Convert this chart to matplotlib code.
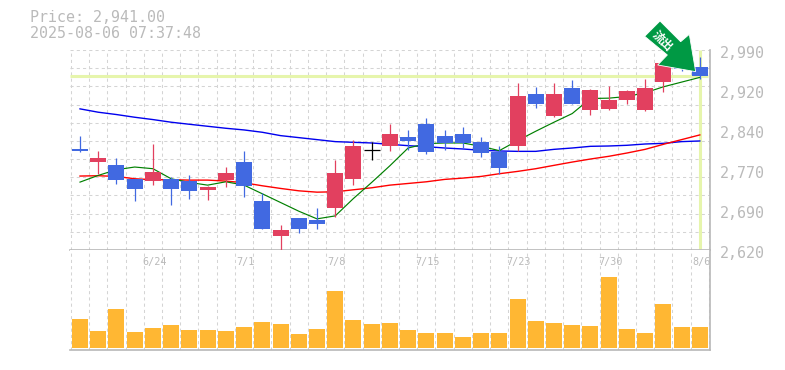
import matplotlib
matplotlib.use("Agg")
import matplotlib.pyplot as plt
from matplotlib.patches import Polygon, Rectangle
import numpy as np

W, H = 785, 370
DPI = 100

dates_idx = [4, 9, 14, 19, 24, 29, 34]
date_labels = ["6/24", "7/1", "7/8", "7/15", "7/23", "7/30", "8/6"]
price_ticks = [2990, 2916, 2842, 2768, 2694, 2620]
price_labels = ["2,990", "2,920", "2,840", "2,770", "2,690", "2,620"]

highs = [2831.6, 2803.8, 2790.8, 2751.8, 2816.8, 2754.9, 2759.2, 2738.8, 2774, 2803.8, 2725.2, 2666.4, 2679.4, 2698,
         2787.1, 2824.2, 2819.9, 2853.9, 2842.8, 2865, 2842.8, 2848.3, 2829.8, 2813, 2928.1, 2920.7, 2928.1, 2933.7,
         2917, 2922.6, 2915.1, 2935.6, 2966.5, 2975, 2976.4]
tops = [2807.5, 2790.8, 2777.8, 2751.2, 2764.8, 2751.2, 2748.1, 2737, 2762.9, 2783.4, 2711, 2657.1, 2679.4, 2675.7,
        2762.9, 2813, 2805.6, 2835.3, 2829.8, 2853.9, 2831.6, 2835.3, 2820.5, 2801.9, 2904, 2907.7, 2907.7, 2918.9,
        2915.1, 2898.4, 2913.3, 2918.9, 2966.5, 2968, 2957.8]
bots = [2803.8, 2783.4, 2750, 2733.2, 2748.1, 2733.2, 2729.5, 2731.4, 2750, 2738.8, 2659, 2646, 2659, 2668.3,
        2698, 2751.8, 2805.6, 2813, 2822.3, 2801.9, 2818.6, 2818.6, 2800.1, 2772.2, 2813, 2891, 2868.7, 2891,
        2879.9, 2881.7, 2896.6, 2879.9, 2930, 2955, 2941.1]
lows = [2802, 2761.1, 2742.5, 2711, 2740.7, 2703.5, 2714.7, 2712.8, 2737, 2718.4, 2659, 2620, 2651.6, 2659,
        2681.9, 2740.7, 2787.1, 2803.8, 2804.4, 2798.2, 2804.4, 2809.3, 2792.6, 2761.1, 2803.8, 2883.6, 2866.9, 2891,
        2870.6, 2879.9, 2891, 2878, 2911.4, 2952, 2935.6]
colors_key = list("brbbrbbrrbbrbbrrkrbbbbbbrbrbrrrrrbb")

ma_short = [2745.6, 2758, 2768.5, 2773.5, 2770.4, 2751.8, 2745, 2740, 2746.2, 2740, 2724, 2707.9, 2691.8, 2677.6,
            2683.1, 2715.3, 2745, 2775.9, 2808.7, 2816.8, 2818, 2818, 2811.8, 2803.8, 2822.3, 2839.7, 2856.4, 2872.4,
            2900.3, 2900.9, 2904, 2910.8, 2921.9, 2930.6, 2939.3]
ma_mid = [2756.8, 2757.4, 2756.1, 2751.8, 2750, 2750, 2749.3, 2749.3, 2747.5, 2744.4, 2738.8, 2733.9, 2729.5, 2727,
          2727.7, 2731.4, 2735.1, 2740, 2743.1, 2746.2, 2750.6, 2753, 2756.1, 2761.1, 2765.4, 2770.4, 2776.6, 2782.7,
          2788.3, 2793.3, 2799.4, 2806.2, 2815.5, 2824.2, 2832.9]
ma_long = [2881.1, 2874.9, 2870.6, 2865.6, 2861.3, 2856.4, 2852.6, 2848.9, 2845.2, 2842.1, 2837.8, 2831.6, 2827.9,
           2824.2, 2820.5, 2819.2, 2818, 2815.5, 2813, 2811.2, 2808.7, 2806.9, 2804.4, 2803.2, 2802.5, 2802.5, 2806.2,
           2808.7, 2811.8, 2812.4, 2813.7, 2816.1, 2817.3, 2820.5, 2821.7]
volumes = [87, 51, 117, 48, 60, 69, 54, 54, 51, 63, 78, 72, 42, 57, 171, 84, 72, 75, 54, 45, 45, 33, 45, 45, 147, 81,
           75, 69, 66, 213, 57, 45, 132, 63, 63]
current_price = 2941
last_idx = 34

BLUE = "#4169E1"
RED = "#E2405F"
ORANGE = "#FFB733"
HILITE = "#E6F5AC"
GRID = "#D4D4D4"
FRAME = "#B8B8B8"
TXT = "#BABABA"

fig = plt.figure(figsize=(W / DPI, H / DPI), dpi=DPI)
fig.patch.set_facecolor("white")


def axes_px(x0, y0, x1, y1):
    return fig.add_axes([x0 / W, 1 - y1 / H, (x1 - x0) / W, (y1 - y0) / H])


x_left, x_right = 70.3, 710.0
step = 18.23
x0_center = 80.0
xlim = ((x_left - x0_center) / step, (x_right - x0_center) / step)

ax = axes_px(x_left, 50.0, x_right, 250.0)
axv = axes_px(x_left, 250.0, x_right, 350.0)

grid_x = np.arange(-0.5, 35, 1)
DASH = (0, (3, 3))
for a in (ax, axv):
    a.set_xlim(*xlim)
    a.set_xticks(grid_x)
    a.grid(True, axis="x", color=GRID, lw=0.75, ls=DASH, zorder=0)
    a.tick_params(length=0, labelbottom=False, labelleft=False)
    a.set_axisbelow(True)
    for s in a.spines.values():
        s.set_visible(False)
    for side in ("bottom", "right"):
        a.spines[side].set_visible(True)
        a.spines[side].set_color(FRAME)
        a.spines[side].set_linewidth(1.2)

ax.set_ylim(2620, 2990)
ax.set_yticks(np.linspace(2620, 2990, 12))
ax.grid(True, axis="y", color=GRID, lw=0.75, ls=DASH, zorder=0)
axv.set_ylim(-6, 294)
axv.set_yticks([])

xs = np.arange(len(highs))

# highlight lines
ax.plot([xlim[0], 34.45], [current_price, current_price], color=HILITE, lw=2.2, zorder=1, solid_capstyle="butt")
ax.plot([last_idx, last_idx], [2622, 2990], color=HILITE, lw=2.2, zorder=1, solid_capstyle="butt")

# moving averages
ax.plot(xs, ma_long, color="#0000EE", lw=1.0, zorder=2)
ax.plot(xs, ma_mid, color="#FF0000", lw=1.0, zorder=2)
ax.plot(xs, ma_short, color="#008000", lw=0.85, zorder=2)

# candles
cmap = {"b": BLUE, "r": RED, "k": "black"}
body_w = 16 / step
for i, k in enumerate(colors_key):
    c = cmap[k]
    ax.plot([i, i], [lows[i], highs[i]], color=c, lw=0.9, zorder=3, solid_capstyle="butt", clip_on=False)
    if k == "k":
        ax.plot([i - body_w / 2, i + body_w / 2], [tops[i], tops[i]], color=c, lw=0.9, zorder=3,
                solid_capstyle="butt")
    else:
        ax.add_patch(Rectangle((i - body_w / 2, bots[i]), body_w, tops[i] - bots[i], facecolor=c, edgecolor="none",
                               zorder=3))

# volume
axv.bar(xs, volumes, width=16 / step, color=ORANGE, zorder=3)

# labels
fam = "DejaVu Sans Mono"
fig.text(30 / W, 1 - 18 / H, "Price: 2,941.00", fontsize=10.8, family=fam, color=TXT, va="center", ha="left")
fig.text(30 / W, 1 - 33 / H, "2025-08-06 07:37:48", fontsize=10.8, family=fam, color=TXT, va="center", ha="left")

trans = ax.get_yaxis_transform()
for v, lab in zip(price_ticks, price_labels):
    ax.annotate(lab, xy=(1, v), xycoords=trans, xytext=(7.0, -2.4), textcoords="offset points",
                fontsize=10.8, family=fam, color=TXT, va="center", ha="left", annotation_clip=False)
for i, lab in zip(dates_idx, date_labels):
    axv.annotate(lab, xy=(i, 1), xycoords=axv.get_xaxis_transform(), xytext=(1, -8.6), textcoords="offset points",
                 fontsize=7.3, family=fam, color=TXT, va="center", ha="center", annotation_clip=False)

# arrow badge (pixel-space decoration)
ox = 390
pts_z = [(810, 63), (764, 109), (832, 165), (803, 195), (917, 215), (898, 103), (872, 125)]
pts = [((ox + x / 3) / W, 1 - (y / 3) / H) for x, y in pts_z]
fig.add_artist(Polygon(pts, closed=True, transform=fig.transFigure, facecolor="#009944", edgecolor="white", lw=0.6,
                       zorder=10))
fig.text(662.5 / W, 1 - 41 / H, "流出", fontsize=8.5, family=["Noto Sans CJK JP", "DejaVu Sans"], color="white",
         rotation=-45, weight="bold", ha="center", va="center", zorder=11, rotation_mode="anchor")

fig.savefig("out.png", dpi=DPI)
